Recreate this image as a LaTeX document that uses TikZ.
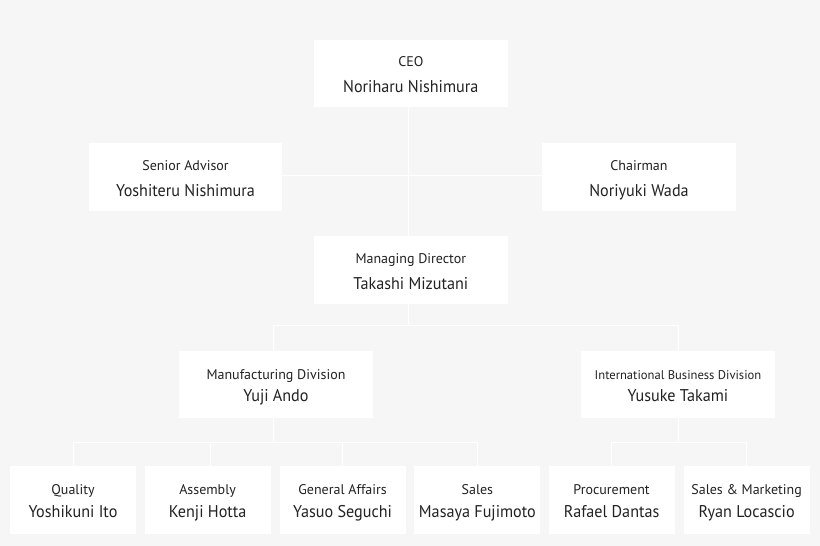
\documentclass[tikz,border=0pt]{standalone}
\usepackage{fontspec}
\setmainfont[FakeStretch=0.95]{PT Sans}
\newfontfamily\ttlfam{PT Sans}
\definecolor{bg}{HTML}{F6F6F6}
\definecolor{txt}{HTML}{222222}
\newcommand{\ttlfont}{\ttlfam\fontsize{14}{26}\selectfont}
\newcommand{\topl}[2]{{\ttlfont\rule{0pt}{16pt}#1}\\#2\rule[-4pt]{0pt}{4pt}}
\newcommand{\lowl}[2]{{\ttlfont\rule{0pt}{16pt}#1}\\#2\rule[-4pt]{0pt}{4pt}}
\tikzset{
  orgbox/.style={rectangle, fill=white, draw=none, minimum width=193.5pt, minimum height=67.5pt,
    inner sep=0pt, align=center, text=txt, font=\fontsize{17}{26}\selectfont},
  lowbox/.style={orgbox, font=\fontsize{17}{22.5}\selectfont},
  smallbox/.style={lowbox, minimum width=126pt},
  conn/.style={draw=white, line width=1pt}
}
\begin{document}
\begin{tikzpicture}[x=1pt,y=-1pt]
\fill[bg] (0,0) rectangle (820,546);
\useasboundingbox (0,0) rectangle (820,546);

% junction coordinates
\coordinate (xc) at (408.7,0);
\coordinate (ya) at (0,175);
\coordinate (yb) at (0,325.8);
\coordinate (yc) at (0,442.8);
\coordinate (xm) at (273.5,0);
\coordinate (xi) at (678.6,0);
\coordinate (xasm) at (210.5,0);

% boxes
\node[orgbox] (ceo) at (410.8,73.5) {\topl{CEO}{Noriharu Nishimura}};
\node[orgbox] (adv) at (185.5,177) {\topl{Senior Advisor}{Yoshiteru Nishimura}};
\node[orgbox] (chair) at (639,177) {\topl{Chairman}{Noriyuki Wada}};
\node[orgbox] (md) at (410.8,270) {\topl{Managing Director}{Takashi Mizutani}};
\node[lowbox] (mfg) at (276,384.5) {\lowl{Manufacturing Division}{Yuji Ando}};
\node[lowbox] (intl) at (678,384.5) {\lowl{\fontsize{12.6}{26}\selectfont International Business Division}{Yusuke Takami}};
\node[smallbox] (q) at (73,500) {\lowl{Quality}{Yoshikuni Ito}};
\node[smallbox] (asm) at (207.6,500) {\lowl{Assembly}{Kenji Hotta}};
\node[smallbox] (ga) at (342.6,500) {\lowl{General Affairs}{Yasuo Seguchi}};
\node[smallbox] (sal) at (477.4,500) {\lowl{Sales}{Masaya Fujimoto}};
\node[smallbox] (pro) at (611.6,500) {\lowl{Procurement}{Rafael Dantas}};
\node[smallbox] (sm) at (746.6,500) {\lowl{Sales \& Marketing}{Ryan Locascio}};

% connectors
\draw[conn] (ceo.south -| xc) -- (md.north -| xc);
\draw[conn] (adv.east |- ya) -- (chair.west |- ya);
\draw[conn] (md.south -| xc) -- (xc |- yb);
\draw[conn] (mfg.north -| xm) -- (xm |- yb) -- (xi |- yb) -- (intl.north -| xi);
\draw[conn] (mfg.south -| xm) -- (xm |- yc);
\draw[conn] (q.north) -- (q.north |- yc) -- (sal.north |- yc) -- (sal.north);
\draw[conn] (asm.north -| xasm) -- (xasm |- yc);
\draw[conn] (ga.north) -- (ga.north |- yc);
\draw[conn] (intl.south -| xi) -- (xi |- yc);
\draw[conn] (pro.north) -- (pro.north |- yc) -- (sm.north |- yc) -- (sm.north);
\end{tikzpicture}
\end{document}
